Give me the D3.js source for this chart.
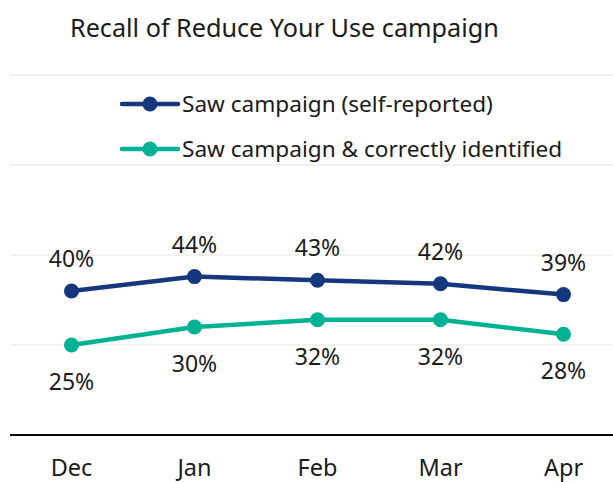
<!DOCTYPE html>
<html>
<head>
<meta charset="utf-8">
<script src="https://cdn.jsdelivr.net/npm/d3@7"></script>
<style>
  html, body { margin: 0; padding: 0; background: #fff; }
  svg { display: block; font-family: "Noto Sans", "Open Sans", sans-serif; }
</style>
</head>
<body>
<svg id="chart" width="613" height="482"></svg>
<script>
// Monthly recall of the "Reduce Your Use" campaign (percent of respondents)
const months = ["Dec", "Jan", "Feb", "Mar", "Apr"];
const sawSelfReported = [40, 44, 43, 42, 39];
const sawCorrectlyIdentified = [25, 30, 32, 32, 28];
const gridTicks = [25, 50, 75, 100];
const seriesNames = ["Saw campaign (self-reported)", "Saw campaign & correctly identified"];
const seriesColors = ["#14377d", "#00b294"];

const svg = d3.select("#chart");

const x = d3.scaleBand().domain(months).range([10, 625]);
const y = d3.scaleLinear().domain([0, 100]).range([435, 75]);
const cx = m => x(m) + x.bandwidth() / 2;

// Title
svg.append("text")
  .attr("x", 70).attr("y", 37)
  .attr("font-size", 25.2).attr("fill", "#1a1a1a")
  .text("Recall of Reduce Your Use campaign");

// Horizontal gridlines
svg.append("g")
  .selectAll("line")
  .data(gridTicks)
  .join("line")
  .attr("x1", 10).attr("x2", 613)
  .attr("y1", d => y(d)).attr("y2", d => y(d))
  .attr("stroke", "#ededed").attr("stroke-width", 1.5);

// Category axis along the bottom
const xAxis = svg.append("g")
  .attr("transform", `translate(0,${y(0)})`)
  .call(d3.axisBottom(x).tickSize(0).tickPadding(24));
xAxis.select(".domain").attr("stroke", "#000").attr("stroke-width", 2.2)
  .attr("d", "M10,0H613");
xAxis.selectAll("text")
  .attr("font-family", "Noto Sans, Open Sans, sans-serif")
  .attr("font-size", 23.5).attr("fill", "#1a1a1a");

const series = [
  { name: seriesNames[0], values: sawSelfReported, color: seriesColors[0], labelDy: -24 },
  { name: seriesNames[1], values: sawCorrectlyIdentified, color: seriesColors[1], labelDy: 45 }
];

const line = d3.line()
  .x((d, i) => cx(months[i]))
  .y(d => y(d));

series.forEach(s => {
  const g = svg.append("g");
  g.append("path")
    .datum(s.values)
    .attr("d", line)
    .attr("fill", "none")
    .attr("stroke", s.color)
    .attr("stroke-width", 4.5)
    .attr("stroke-linejoin", "round");
  g.selectAll("circle")
    .data(s.values)
    .join("circle")
    .attr("cx", (d, i) => cx(months[i]))
    .attr("cy", d => y(d))
    .attr("r", 7.5)
    .attr("fill", s.color);
  g.selectAll("text")
    .data(s.values)
    .join("text")
    .attr("x", (d, i) => cx(months[i]))
    .attr("y", d => y(d) + s.labelDy)
    .attr("text-anchor", "middle")
    .attr("font-size", 23)
    .attr("fill", "#1a1a1a")
    .text(d => d + "%");
});

// Legend
const legend = svg.append("g");
series.forEach((s, i) => {
  const ly = 104 + i * 45;
  const row = legend.append("g");
  row.append("line")
    .attr("x1", 122).attr("x2", 178)
    .attr("y1", ly).attr("y2", ly)
    .attr("stroke", s.color).attr("stroke-width", 4.5)
    .attr("stroke-linecap", "round");
  row.append("circle")
    .attr("cx", 150).attr("cy", ly).attr("r", 7.5)
    .attr("fill", s.color);
  row.append("text")
    .attr("x", 182).attr("y", ly + 8)
    .attr("font-size", 22.6).attr("fill", "#1a1a1a")
    .text(s.name);
});
</script>
</body>
</html>
